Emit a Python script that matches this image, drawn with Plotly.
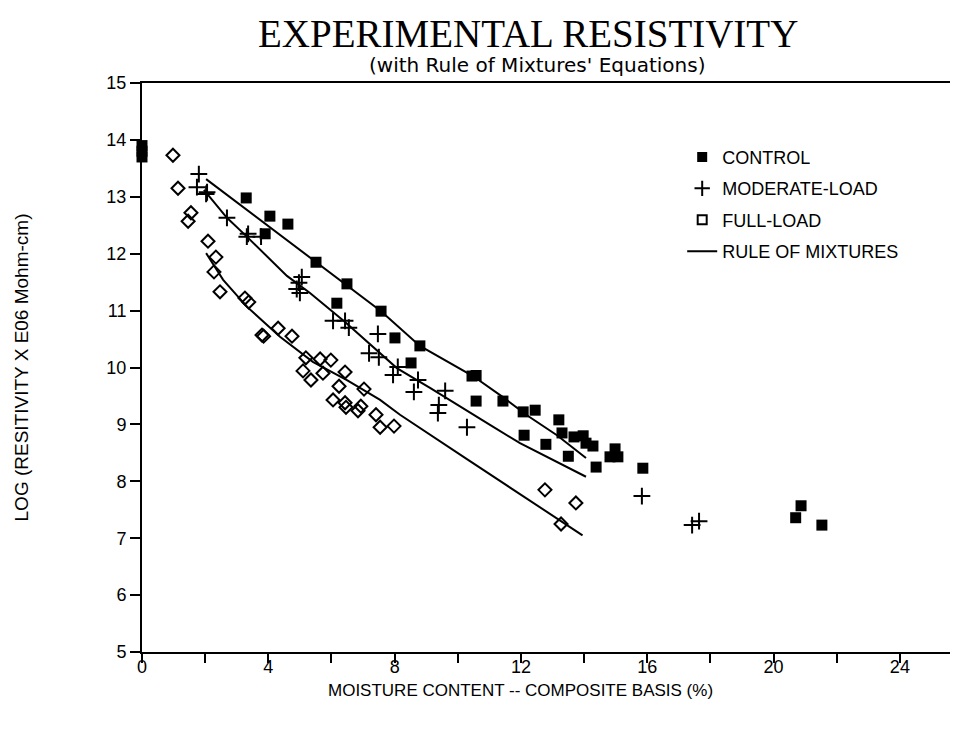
import plotly.graph_objects as go

# ---- data ----
control_x = [0, 0, 0, 3.3, 4.05, 4.62, 3.9, 5.51, 6.49, 6.17, 7.57, 8.01, 8.8, 8.52, 10.45, 10.58,
             10.58, 11.43, 12.07, 12.45, 12.1, 12.79, 13.2, 13.3, 13.5, 13.68, 13.97, 14.06, 14.28,
             14.38, 14.82, 14.98, 15.07, 15.86, 20.7, 20.87, 21.53]
control_y = [13.9, 13.8, 13.7, 12.98, 12.66, 12.52, 12.35, 11.85, 11.47, 11.13, 10.99, 10.52, 10.38, 10.08, 9.85, 9.86,
             9.41, 9.41, 9.22, 9.25, 8.81, 8.65, 9.08, 8.85, 8.44, 8.78, 8.8, 8.67, 8.62,
             8.25, 8.43, 8.57, 8.43, 8.23, 7.36, 7.57, 7.23]

moderate_x = [1.8, 1.74, 2.06, 2.03, 2.69, 3.32, 3.36, 3.77, 5.06, 4.9, 5.0, 4.97, 6.05, 6.43, 6.55,
              7.47, 7.19, 7.5, 7.95, 8.1, 8.74, 8.61, 9.6, 9.4, 9.37, 10.29, 15.83, 17.42, 17.64]
moderate_y = [13.4, 13.17, 13.08, 13.05, 12.63, 12.3, 12.35, 12.3, 11.59, 11.38, 11.31, 11.49, 10.82, 10.82, 10.7,
              10.59, 10.25, 10.18, 9.87, 10.01, 9.78, 9.57, 9.59, 9.34, 9.2, 8.95, 7.74, 7.23, 7.3]

full_x = [0.98, 1.14, 1.55, 1.46, 2.09, 2.34, 2.28, 2.47, 3.26, 3.38, 3.8, 3.85, 4.31, 4.75, 5.19, 5.1,
          5.35, 5.64, 5.73, 5.98, 6.43, 6.24, 6.05, 6.43, 6.46, 7.03, 6.93, 6.84, 7.41, 7.54, 7.98,
          12.76, 13.74, 13.27]
full_y = [13.73, 13.15, 12.72, 12.57, 12.22, 11.94, 11.68, 11.33, 11.22, 11.15, 10.57, 10.55, 10.69, 10.55, 10.17, 9.94,
          9.78, 10.15, 9.9, 10.13, 9.92, 9.67, 9.43, 9.38, 9.3, 9.62, 9.32, 9.24, 9.17, 8.95, 8.97,
          7.85, 7.62, 7.25]

rom_control_x = [2.03, 3.3, 5.5, 6.5, 7.57, 8.8, 10.48, 11.43, 12.19, 13.14, 14.06]
rom_control_y = [13.31, 12.78, 11.86, 11.45, 10.99, 10.38, 9.85, 9.48, 9.16, 8.81, 8.41]

rom_moderate_x = [1.96, 2.69, 3.32, 4.59, 5.32, 6.43, 8.07, 9.12, 11.02, 11.97, 14.06]
rom_moderate_y = [13.12, 12.63, 12.3, 11.61, 11.31, 10.8, 9.99, 9.64, 8.99, 8.67, 8.08]

rom_full_x = [2.03, 2.37, 2.57, 3.32, 4.37, 5.41, 6.49, 7.54, 8.17, 10.29, 12.0, 13.95]
rom_full_y = [12.01, 11.71, 11.54, 11.07, 10.54, 10.1, 9.78, 9.43, 9.17, 8.39, 7.76, 7.05]

x_tickvals = [0, 2, 4, 6, 8, 10, 12, 14, 16, 18, 20, 22, 24]
x_ticktext = ["0", "", "4", "", "8", "", "12", "", "16", "", "20", "", "24"]
y_tickvals = [5, 6, 7, 8, 9, 10, 11, 12, 13, 14, 15]

fig = go.Figure()

# rule of mixtures lines
for lx, ly in [(rom_control_x, rom_control_y),
               (rom_moderate_x, rom_moderate_y),
               (rom_full_x, rom_full_y)]:
    fig.add_trace(go.Scatter(x=lx, y=ly, mode="lines", line=dict(color="black", width=2),
                             showlegend=False, hoverinfo="skip"))

fig.add_trace(go.Scatter(x=control_x, y=control_y, mode="markers", cliponaxis=False,
                         marker=dict(symbol="square", size=11, color="black"),
                         showlegend=False))
fig.add_trace(go.Scatter(x=moderate_x, y=moderate_y, mode="markers", cliponaxis=False,
                         marker=dict(symbol="cross-thin-open", size=12, color="black",
                                     line=dict(color="black", width=2)),
                         showlegend=False))
fig.add_trace(go.Scatter(x=full_x, y=full_y, mode="markers", cliponaxis=False,
                         marker=dict(symbol="diamond-open", size=10, color="black",
                                     line=dict(color="black", width=2)),
                         showlegend=False))

# legend entries
fig.add_trace(go.Scatter(x=[None], y=[None], mode="markers", name="CONTROL", legendgroup="a",
                         marker=dict(symbol="square", size=10, color="black")))
fig.add_trace(go.Scatter(x=[None], y=[None], mode="markers", name="MODERATE-LOAD", legendgroup="b",
                         marker=dict(symbol="cross-thin-open", size=11, color="black",
                                     line=dict(color="black", width=2))))
fig.add_trace(go.Scatter(x=[None], y=[None], mode="markers", name="FULL-LOAD", legendgroup="c",
                         marker=dict(symbol="square-open", size=9, color="black",
                                     line=dict(color="black", width=2))))
fig.add_trace(go.Scatter(x=[None], y=[None], mode="lines", name="RULE OF MIXTURES", legendgroup="d",
                         line=dict(color="black", width=2)))

font_sans = "Liberation Sans, Arial, sans-serif"
font_wide = "DejaVu Sans, Verdana, sans-serif"

fig.update_layout(
    width=958, height=731,
    paper_bgcolor="white", plot_bgcolor="white",
    margin=dict(l=134, r=8, t=75, b=87, autoexpand=False),
    font=dict(family=font_sans, color="black", size=15),
    showlegend=True,
    legend=dict(x=0.662, y=0.902, xanchor="left", yanchor="top",
                font=dict(size=18, family=font_sans, color="black"),
                bgcolor="rgba(0,0,0,0)", itemwidth=30, tracegroupgap=5),
    xaxis=dict(range=[0, 25.84], showgrid=False, zeroline=False, automargin=False,
               showline=True, linecolor="black", linewidth=2, mirror=True,
               tickmode="array", tickvals=x_tickvals, ticktext=x_ticktext,
               ticks="outside", ticklen=9, tickwidth=1.5, tickcolor="black",
               ticklabelstandoff=-12,
               tickfont=dict(size=18, family=font_sans)),
    yaxis=dict(range=[5, 15], showgrid=False, zeroline=False, automargin=False,
               showline=True, linecolor="black", linewidth=2, mirror=False,
               tickmode="array", tickvals=y_tickvals,
               ticks="outside", ticklen=10, tickwidth=1.5, tickcolor="black",
               tickfont=dict(size=18, family=font_sans),
               title=dict(text="LOG (RESITIVITY X E06 Mohm-cm)",
                          font=dict(size=19, family=font_sans), standoff=73)),
    title=dict(text="EXPERIMENTAL RESISTIVITY", x=0.543, xanchor="center", y=0.984, yanchor="top",
               font=dict(family="Liberation Serif, Times New Roman, serif", size=39, color="black")),
    annotations=[
        dict(text="(with Rule of Mixtures' Equations)", xref="paper", yref="paper",
             x=0.484, y=1.0, yshift=4, xanchor="center", yanchor="bottom", showarrow=False,
             font=dict(size=20, family=font_wide, color="black")),
        dict(text="MOISTURE CONTENT -- COMPOSITE BASIS (%)", xref="paper", yref="paper",
             x=0.464, y=0, yshift=-38, xanchor="center", yanchor="middle", showarrow=False,
             font=dict(size=17, family=font_sans, color="black")),
    ],
)

fig.write_html("out.html")
